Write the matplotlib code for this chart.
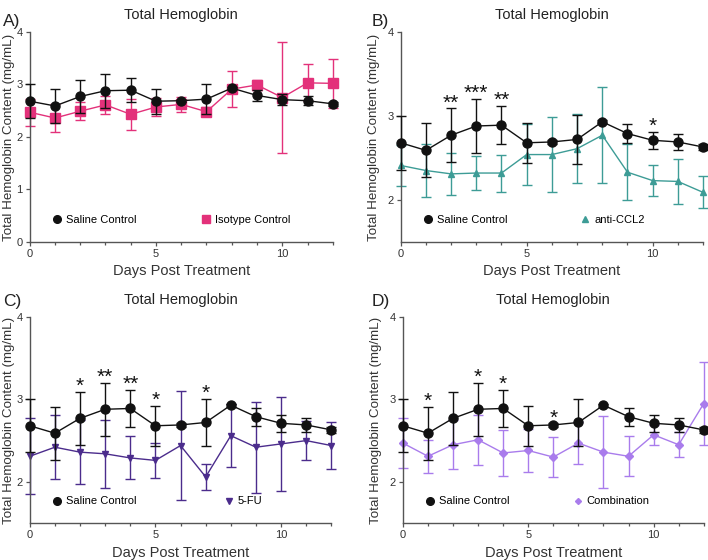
import matplotlib
matplotlib.use("Agg")
import matplotlib.pyplot as plt
from matplotlib.lines import Line2D
from matplotlib.ticker import MultipleLocator

plt.rcParams['font.family'] = ['Liberation Sans', 'DejaVu Sans']

days = list(range(13))

# saline control (same in every panel)
saline_mean = [2.68, 2.59, 2.77, 2.88, 2.89, 2.68, 2.69, 2.72, 2.93, 2.79, 2.71, 2.69, 2.63]
saline_err = [0.32, 0.32, 0.32, 0.32, 0.23, 0.24, 0.02, 0.29, 0.02, 0.11, 0.10, 0.09, 0.04]

isotype_mean = [2.47, 2.36, 2.49, 2.61, 2.43, 2.57, 2.62, 2.48, 2.91, 2.99, 2.75, 3.03, 3.02]
isotype_err = [0.26, 0.27, 0.17, 0.17, 0.30, 0.18, 0.14, 0.09, 0.34, 0.09, 1.05, 0.35, 0.46]

ccl2_mean = [2.41, 2.35, 2.31, 2.32, 2.32, 2.54, 2.54, 2.61, 2.77, 2.33, 2.23, 2.22, 2.09]
ccl2_err = [0.24, 0.31, 0.25, 0.20, 0.22, 0.36, 0.45, 0.41, 0.57, 0.33, 0.18, 0.27, 0.19]

fu_mean = [2.31, 2.42, 2.36, 2.34, 2.29, 2.26, 2.44, 2.06, 2.56, 2.42, 2.46, 2.50, 2.44]
fu_err = [0.46, 0.39, 0.39, 0.41, 0.26, 0.21, 0.66, 0.16, 0.38, 0.55, 0.57, 0.24, 0.29]

combo_mean = [2.47, 2.31, 2.45, 2.51, 2.35, 2.38, 2.30, 2.47, 2.36, 2.31, 2.57, 2.45, 2.95]
combo_err = [0.30, 0.20, 0.30, 0.30, 0.28, 0.26, 0.24, 0.25, 0.44, 0.24, 0.12, 0.15, 0.50]

# significance marks: (day, stars)
stars_b = [(2, '**'), (3, '***'), (4, '**'), (10, '*')]
stars_c = [(2, '*'), (3, '**'), (4, '**'), (5, '*'), (7, '*')]
stars_d = [(1, '*'), (3, '*'), (4, '*'), (6, '*')]

panels = [
    dict(letter='A)', pos=[0.042, 0.568, 0.428, 0.375], name='Isotype Control',
         mean=isotype_mean, err=isotype_err, color='#e3317a', marker='s', ms=6.5,
         ylim=(0, 4), stars=[], leg=(0.11, 0.60), lab=(0.004, 0.962), ylx=-0.05),
    dict(letter='B)', pos=[0.566, 0.568, 0.427, 0.375], name='anti-CCL2',
         mean=ccl2_mean, err=ccl2_err, color='#3d9c96', marker='^', ms=5,
         ylim=(1.5, 4), stars=stars_b, leg=(0.11, 0.63), lab=(0.525, 0.962), ylx=-0.068),
    dict(letter='C)', pos=[0.042, 0.066, 0.426, 0.368], name='5-FU',
         mean=fu_mean, err=fu_err, color='#4b2c8c', marker='v', ms=5,
         ylim=(1.5, 4), stars=stars_c, leg=(0.11, 0.68), lab=(0.004, 0.462), ylx=-0.05),
    dict(letter='D)', pos=[0.569, 0.066, 0.425, 0.368], name='Combination',
         mean=combo_mean, err=combo_err, color='#a97cec', marker='D', ms=3.8,
         ylim=(1.5, 4), stars=stars_d, leg=(0.11, 0.60), lab=(0.525, 0.462), ylx=-0.068),
]

fig = plt.figure(figsize=(7.08, 5.6), dpi=100)

for p in panels:
    ax = fig.add_axes(p['pos'])
    ax.errorbar(days, p['mean'], yerr=p['err'], color=p['color'], marker=p['marker'],
                markersize=p['ms'], linewidth=1.0, elinewidth=1.0, capsize=3.5,
                capthick=1.0, clip_on=False, zorder=2)
    ax.errorbar(days, saline_mean, yerr=saline_err, color='#111111', marker='o',
                markersize=6.5, linewidth=1.0, elinewidth=1.0, capsize=3.5,
                capthick=1.0, clip_on=False, zorder=3)

    # significance stars above the saline error bars
    for d, s in p['stars']:
        ax.annotate(s, (d, saline_mean[d] + saline_err[d]), xytext=(0, -3),
                    textcoords='offset points', ha='center', va='bottom',
                    fontsize=15, color='#111111')

    ax.set_xlim(0, 12)
    ax.set_ylim(*p['ylim'])
    ax.xaxis.set_major_locator(MultipleLocator(5))
    ax.xaxis.set_minor_locator(MultipleLocator(1))
    ax.yaxis.set_major_locator(MultipleLocator(1))
    for side in ['top', 'right']:
        ax.spines[side].set_visible(False)
    for side in ['left', 'bottom']:
        ax.spines[side].set_color('#555555')
        ax.spines[side].set_linewidth(1.0)
    ax.tick_params(which='both', direction='out', colors='#555555', labelcolor='#333333',
                   labelsize=8, length=3, width=0.9, pad=2)
    ax.tick_params(which='minor', length=2.5)

    ax.set_xlabel('Days Post Treatment', fontsize=10.5, color='#333333', labelpad=4)
    ax.set_ylabel('Total Hemoglobin Content (mg/mL)', fontsize=9.6, color='#333333')
    ax.yaxis.set_label_coords(p['ylx'], 0.5)
    ax.set_title('Total Hemoglobin', fontsize=10.5, color='#222222', pad=9)
    fig.text(p['lab'][0], p['lab'][1], p['letter'], fontsize=12.5, color='#222222',
             va='center', ha='left')

    # legend entries placed separately
    h1 = Line2D([], [], color='#111111', marker='o', linestyle='none', markersize=5.5)
    h2 = Line2D([], [], color=p['color'], marker=p['marker'], linestyle='none',
                markersize=p['ms'] * 0.8)
    lx1, lx2 = p['leg']
    leg1 = ax.legend([h1], ['Saline Control'], loc='center left',
                     bbox_to_anchor=(lx1 - 0.03, 0.105), frameon=False, fontsize=8,
                     handlelength=0.6, handletextpad=0.5, borderpad=0, borderaxespad=0)
    ax.add_artist(leg1)
    ax.legend([h2], [p['name']], loc='center left',
              bbox_to_anchor=(lx2 - 0.03, 0.105), frameon=False, fontsize=8,
              handlelength=0.6, handletextpad=0.5, borderpad=0, borderaxespad=0)

fig.savefig('out.png', dpi=100)
